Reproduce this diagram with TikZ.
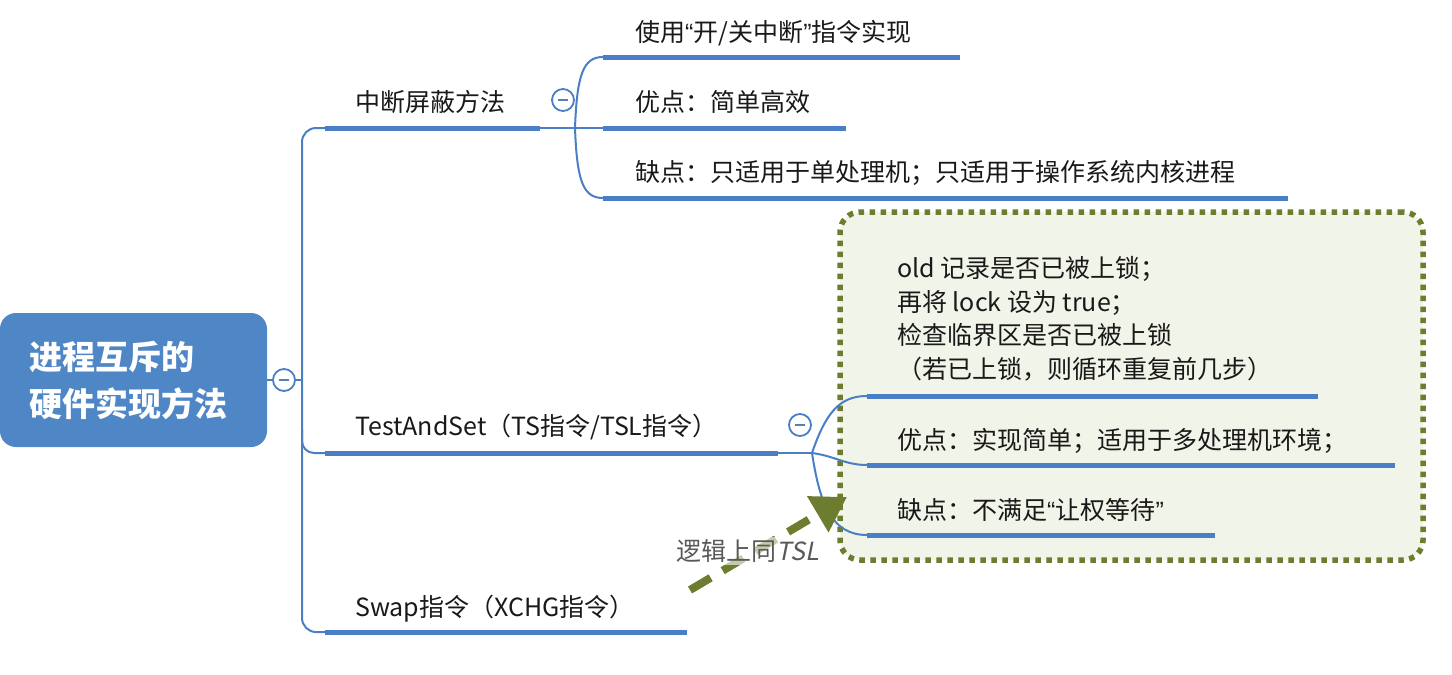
\documentclass[tikz,border=0pt]{standalone}
\usepackage{fontspec}
\setmainfont{Noto Sans CJK SC}
\newfontfamily\slantfont[FakeSlant=0.2]{Noto Sans CJK SC}
\newfontfamily\quotefont{Liberation Sans}
\newcommand{\oquote}{{\quotefont “}}
\newcommand{\cquote}{{\quotefont ”}}
\usetikzlibrary{arrows.meta}
\definecolor{mapblue}{HTML}{4A7FC6}
\definecolor{rootblue}{HTML}{4F86C6}
\definecolor{olivegreen}{HTML}{6D7D2F}
\definecolor{notefill}{HTML}{F1F4E8}
\tikzset{
  rootbox/.style={fill=rootblue, rounded corners=16pt, minimum width=267pt, minimum height=134pt,
    text=white, align=left, text width=207pt, inner sep=0pt, font=\fontsize{33}{47}\selectfont\bfseries},
  topic/.style={anchor=base west, inner sep=0pt, text=black!90, align=left, font=\fontsize{25}{33.5}\selectfont},
  uline/.style={draw=mapblue, line width=5pt},
  link/.style={draw=mapblue, line width=2pt},
  fold/.style={circle, draw=mapblue, line width=1.8pt, fill=white, minimum size=22pt, inner sep=0pt,
    path picture={\draw[mapblue!80!gray, line width=2pt]
      ([xshift=-5pt]path picture bounding box.center) -- ([xshift=5pt]path picture bounding box.center);}},
  notebox/.style={draw=olivegreen, fill=notefill, line width=5.5pt, dash pattern=on 5.5pt off 5.5pt,
    rounded corners=20pt, minimum width=583pt, minimum height=348pt},
  hint/.style={draw=olivegreen, line width=8pt, dash pattern=on 24pt off 14pt,
    -{Triangle[length=34pt, width=40pt]}},
  hintlabel/.style={fill=white, fill opacity=0.6, text opacity=1, inner sep=2pt, text=black!65,
    font=\fontsize{25}{30}\selectfont}
}
\begin{document}
\begin{tikzpicture}[x=1pt, y=-1pt]
\useasboundingbox (0,0) rectangle (1452,675);
% box behind the TestAndSet children
\node[notebox] (tsbox) at (1131.5,386) {};
% root
\node[rootbox] (root) at (133.5,380) {进程互斥的\\硬件实现方法};
\node[fold] (rootfold) at (284,380) {};
% first level
\node[topic] (intr) at (355,111) {中断屏蔽方法};
\node[topic] (ts) at (355,435) {TestAndSet（TS指令/TSL指令）};
\node[topic] (swap) at (355,616) {Swap指令（XCHG指令）};
\node[fold] (intfold) at (563,100) {};
\node[fold] (tsfold) at (800,425) {};
% second level
\node[topic] (intr1) at (635,41) {使用\oquote 开/关中断\cquote 指令实现};
\node[topic] (intr2) at (635,111) {优点：简单高效};
\node[topic] (intr3) at (635,181) {缺点：只适用于单处理机；只适用于操作系统内核进程};
\node[topic] (ts1) at (897,378) {old 记录是否已被上锁；\\再将 lock 设为 true；\\检查临界区是否已被上锁\\（若已上锁，则循环重复前几步）};
\node[topic] (ts2) at (897,449) {优点：实现简单；适用于多处理机环境；};
\node[topic] (ts3) at (897,519) {缺点：不满足\oquote 让权等待\cquote};
% underline ends
\coordinate (intr-s) at (325,128); \coordinate (intr-e) at (540,128);
\coordinate (ts-s) at (325,453);   \coordinate (ts-e) at (778,453);
\coordinate (swap-s) at (325,632); \coordinate (swap-e) at (687,632);
\coordinate (intr1-s) at (603,57);  \coordinate (intr1-e) at (960,57);
\coordinate (intr2-s) at (603,128); \coordinate (intr2-e) at (846,128);
\coordinate (intr3-s) at (603,198); \coordinate (intr3-e) at (1288,198);
\coordinate (ts1-s) at (867,396); \coordinate (ts1-e) at (1318,396);
\coordinate (ts2-s) at (867,465); \coordinate (ts2-e) at (1395,465);
\coordinate (ts3-s) at (867,535); \coordinate (ts3-e) at (1215,535);
\coordinate (intfork) at (575,128);
\coordinate (tsfork) at (812,453);
% trunk
\draw[link] (root.east) -- (rootfold.west);
\draw[link] (rootfold.east) -- (302,380);
\draw[link, rounded corners=14pt] (intr-s) -- (302,128) -- (302,632) -- (swap-s);
\draw[link, rounded corners=12pt] (302,430) |- (ts-s);
% forks
\draw[link] (intr-e) -- (intr2-s);
\draw[link] (intfork) .. controls (577,75) and (583,57) .. (intr1-s);
\draw[link] (intfork) .. controls (577,181) and (583,198) .. (intr3-s);
\draw[link] (ts-e) -- (tsfork);
\draw[link] (tsfork) .. controls (826,412) and (840,396) .. (ts1-s);
\draw[link] (tsfork) .. controls (835,456) and (845,465) .. (ts2-s);
\draw[link] (tsfork) .. controls (820,505) and (832,535) .. (ts3-s);
% underlines
\foreach \u in {intr,ts,swap,intr1,intr2,intr3,ts1,ts2,ts3}
  \draw[uline] (\u-s) -- (\u-e);
% hint arrow
\coordinate (hint-s) at (690,590);
\coordinate (hint-e) at (847,497);
\draw[hint] (hint-s) -- (hint-e);
\node[hintlabel] (hintlbl) at (748,551) {逻辑上同{\slantfont TSL}};
\end{tikzpicture}
\end{document}
